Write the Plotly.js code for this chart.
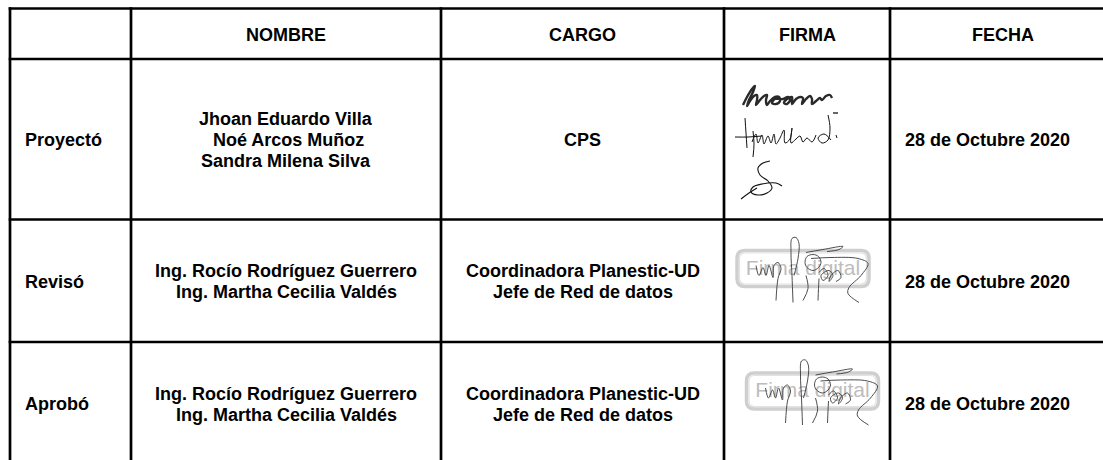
<!DOCTYPE html>
<html>
<head>
<meta charset="utf-8">
<script src="https://cdn.plot.ly/plotly-3.0.1.min.js"></script>
<style>html,body{margin:0;padding:0;background:#fff;}#chart{width:1103px;height:460px;}</style>
</head>
<body>
<div id="chart"></div>
<script>
// ---------- table content ----------
const headers = ['NOMBRE', 'CARGO', 'FIRMA', 'FECHA'];
const rowLabels = ['Proyectó', 'Revisó', 'Aprobó'];
const names = [
  ['Jhoan Eduardo Villa', '\u00a0Noé Arcos Muñoz', 'Sandra Milena Silva'],
  ['Ing. Rocío Rodríguez Guerrero', 'Ing. Martha Cecilia Valdés'],
  ['Ing. Rocío Rodríguez Guerrero', 'Ing. Martha Cecilia Valdés']
];
const cargos = [
  ['CPS'],
  ['Coordinadora Planestic-UD', 'Jefe de Red de datos'],
  ['Coordinadora Planestic-UD', 'Jefe de Red de datos']
];
const dates = ['28 de Octubre 2020', '28 de Octubre 2020', '28 de Octubre 2020'];
const stampText = 'Firma digital';

// ---------- layout geometry (pixels) ----------
const W = 1103, H = 460;
const colEdges = [10, 131, 441, 724, 890, 1116];
const rowEdges = [8.5, 59, 219.5, 342, 464];
const lineGap = 21;
const FONT = 'Liberation Sans, Arial, Helvetica, sans-serif';
const FS = 18;

// signature strokes, local coordinates (px) relative to their anchor
const sigAnchorsRow1 = [[0, 0]]; // relative to FIRMA cell top-left
const sigJhoan = [[19,46],[23,38],[28,30],[31,27],[29,33],[25,41],[23,47],[26,42],[30,37],[33,36],[33,41],[32,46],[36,41],[40,37],[43,36],[42,41],[43,46],[46,42],[51,38],[55,38],[56,42],[52,45],[48,44],[51,40],[59,40],[64,38],[66,41],[63,45],[60,44],[63,40],[68,38],[68,45],[72,40],[76,38],[79,39],[78,45],[82,40],[86,37],[88,40],[88,45],[92,42],[96,39],[98,41],[102,37],[106,36],[108,39]];
const sigDash = [[109,54],[114,54]];
const sigH = [
  [[11,78],[24,78],[38,77]],
  [[21,59],[22,74],[23,89]],
  [[29,72],[30,85],[29,98]],
  [[28,83],[32,75],[34,84],[38,76],[40,85],[44,77],[47,84],[50,75],[52,85],[56,79],[60,71],[61,84],[66,80],[68,69],[67,84],[72,80],[76,77],[79,83],[83,79],[88,83],[92,76]],
  [[104,56],[106,69],[104,81],[98,84],[94,79],[100,75],[107,81]],
  [[112,76],[113,79]]
];
const sigS = [
  [[46,102],[39,104],[34,109],[36,116],[44,122],[48,129],[43,134],[34,136],[27,133],[29,128],[38,125],[52,124],[58,127]],
  [[17,140],[25,134],[33,129]]
];
// stamp signature, relative to stamp centre
const stampSig = [
  [[-10,34],[-11,7],[-12,-16],[-11,-30],[-7,-31],[-4,-25],[-5,-10],[-9,7]],
  [[18,-6],[15.5,-12],[10,-14],[4,-12],[2,-6],[4,-1],[10,2],[15.5,-1],[18,-6]],
  [[3,-16],[20,-19],[40,-22],[36,-19],[24,-17]],
  [[-47,-3],[-44,7],[-40,-1],[-37,7],[-34,-3],[-30,9],[-29,-3],[-25,-6],[-22,0],[-25,10],[-27,32]],
  [[16,4],[21,0],[25,7],[20,12],[18,7],[26,2],[30,7],[26,13],[28,7],[35,2],[38,9],[33,13]],
  [[8,-10],[28,-11],[55,-10],[65,-5],[58,7],[46,19],[45,25],[56,34]],
  [[16,10],[15.5,20],[15,32]],
  [[3,7],[5,20],[0,32]]
];
const stampCentres = [[803, 268.5], [812.5, 391]];
const stampW = 132, stampH = 36;

// ---------- build ----------
const shapes = [];
rowEdges.forEach(y => shapes.push({type:'line', x0: colEdges[0]-1.3, x1: W+20, y0: y, y1: y, line:{color:'#000', width:2.7}}));
colEdges.forEach(x => shapes.push({type:'line', x0: x, x1: x, y0: rowEdges[0]-1.3, y1: H+20, line:{color:'#000', width:2.7}}));

function rr(cx, cy, w, h, r) {
  const x0 = cx - w/2, x1 = cx + w/2, y0 = cy - h/2, y1 = cy + h/2;
  return `M${x0+r},${y0} L${x1-r},${y0} Q${x1},${y0} ${x1},${y0+r} L${x1},${y1-r} Q${x1},${y1} ${x1-r},${y1} L${x0+r},${y1} Q${x0},${y1} ${x0},${y1-r} L${x0},${y0+r} Q${x0},${y0} ${x0+r},${y0} Z`;
}
stampCentres.forEach(([cx, cy]) => {
  shapes.push({type:'path', path: rr(cx, cy, stampW, stampH, 8), line:{color:'#cfcfcf', width:3.5}, layer:'below'});
  shapes.push({type:'path', path: rr(cx, cy, stampW-5, stampH-5, 6), line:{color:'#e2e2e2', width:1.2}, layer:'below'});
});

const annotations = [];
function ann(text, x, y, xanchor) {
  annotations.push({x, y, xref:'x', yref:'y', text:'<b>'+text+'</b>', showarrow:false,
    xanchor: xanchor || 'center', yanchor:'middle', font:{family:FONT, size:FS, color:'#000'}});
}
const colCentre = i => (colEdges[i] + colEdges[i+1]) / 2;
const rowCentre = i => (rowEdges[i] + rowEdges[i+1]) / 2 + 1;

headers.forEach((h, i) => ann(h, colCentre(i+1), rowCentre(0)));
rowLabels.forEach((lab, r) => {
  const cy = rowCentre(r+1);
  ann(lab, colEdges[0] + 13, cy, 'left');
  names[r].forEach((t, k) => ann(t, colCentre(1), cy + (k - (names[r].length-1)/2) * lineGap));
  cargos[r].forEach((t, k) => ann(t, colCentre(2), cy + (k - (cargos[r].length-1)/2) * lineGap));
  ann(dates[r], colEdges[4] + 13, cy, 'left');
});

const traces = [];
// stamp text
traces.push({type:'scatter', mode:'text', x: stampCentres.map(c => c[0]), y: stampCentres.map(c => c[1] + 1),
  text: stampCentres.map(() => stampText), textposition:'middle center',
  textfont:{family:FONT, size:21, color:'#bdbdbd'}, hoverinfo:'skip'});

function stroke(pts, ox, oy, color, width) {
  traces.push({type:'scatter', mode:'lines', x: pts.map(p => p[0] + ox), y: pts.map(p => p[1] + oy),
    line:{color, width, shape:'spline', smoothing:1}, hoverinfo:'skip'});
}
const fx = colEdges[3], fy = rowEdges[1];
stroke(sigJhoan, fx, fy, '#2a2a2a', 2.4);
stroke(sigDash, fx, fy, '#000', 1.2);
sigH.forEach(s => stroke(s, fx, fy, '#111', 1));
sigS.forEach(s => stroke(s, fx, fy, '#111', 1.1));
stampCentres.forEach(([cx, cy]) => stampSig.forEach(s => stroke(s, cx, cy, '#3a3a3a', 0.9)));

const layout = {
  width: W, height: H, autosize: false,
  margin: {l:0, r:0, t:0, b:0, pad:0},
  paper_bgcolor:'#fff', plot_bgcolor:'#fff',
  xaxis: {range:[0, W], visible:false, fixedrange:true},
  yaxis: {range:[H, 0], visible:false, fixedrange:true},
  showlegend:false, shapes, annotations
};
Plotly.newPlot('chart', traces, layout, {staticPlot:true, displayModeBar:false});
</script>
</body>
</html>
